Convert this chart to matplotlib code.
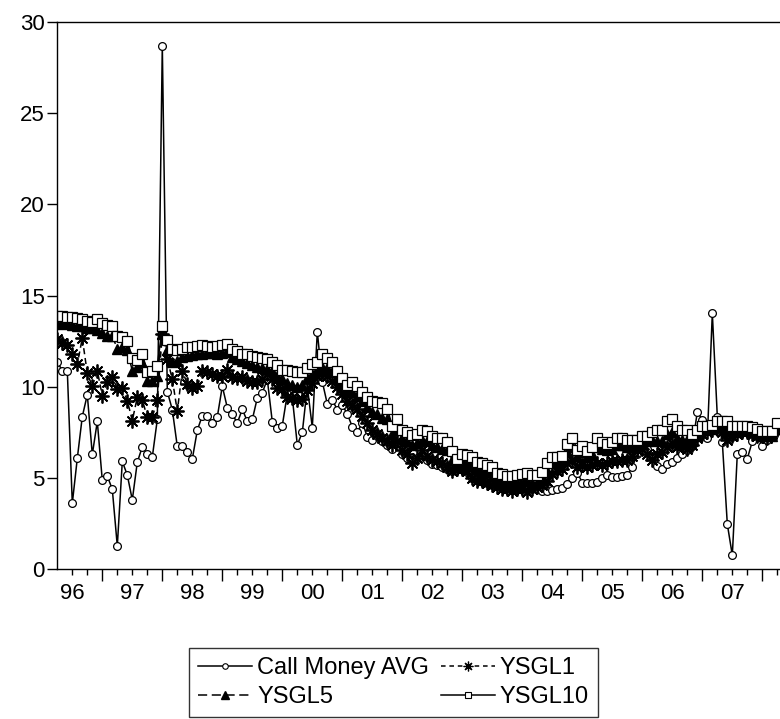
import numpy as np
import matplotlib.pyplot as plt
from matplotlib.lines import Line2D

plt.rcParams['font.family'] = ['Liberation Sans', 'DejaVu Sans']

# monthly data, Apr 1996 .. Apr 2008
call_money = [11.37, 10.87, 10.87, 3.6, 6.07, 8.36, 9.56, 6.28, 8.09, 4.86, 5.1, 4.37, 1.26, 5.9, 5.15,
              3.79, 5.86, 6.7, 6.28, 6.14, 8.2, 28.7, 9.73, 8.74, 6.72, 6.74, 6.41, 6.03, 7.61, 8.41,
              8.41, 8.0, 8.34, 10.02, 8.85, 8.49, 8.01, 8.76, 8.1, 8.2, 9.38, 9.67, 10.4, 8.07, 7.72,
              7.87, 9.6, 9.4, 6.81, 7.49, 10.0, 7.76, 13.02, 10.27, 9.05, 9.27, 8.74, 9.0, 8.5, 7.8,
              7.49, 8.03, 7.25, 7.1, 7.3, 7.0, 6.8, 6.6, 6.9, 6.3, 6.1, 6.0, 6.1, 6.23, 6.0,
              5.77, 5.7, 5.6, 5.5, 5.4, 5.6, 5.5, 5.3, 5.0, 4.9, 4.8, 4.7, 4.6, 4.6, 4.5,
              4.6, 4.5, 4.4, 4.5, 4.6, 4.5, 4.4, 4.3, 4.28, 4.33, 4.41, 4.46, 4.68, 5.0, 5.28,
              4.74, 4.74, 4.74, 4.77, 5.01, 5.14, 5.04, 5.04, 5.1, 5.14, 5.6, 6.3, 6.8, 6.6, 6.2,
              5.65, 5.5, 5.74, 5.86, 6.1, 6.28, 6.5, 6.72, 8.63, 8.18, 7.17, 14.03, 8.36, 6.96, 2.46,
              0.75, 6.32, 6.41, 6.05, 7.0, 7.3, 6.74, 7.05, 7.4, 7.6]

ysgl1 = [12.6, 12.42, 12.28, 11.79, 11.24, 12.66, 10.73, 10.02, 10.87, 9.51, 10.27, 10.55, 9.87, 9.91, 9.23,
         8.14, 9.42, 9.27, 8.32, 8.32, 9.29, 12.88, 11.5, 10.42, 8.65, 10.87, 10.15, 9.93, 10.02, 10.84,
         10.8, 10.69, 10.6, 10.6, 10.93, 10.51, 10.5, 10.51, 10.33, 10.24, 10.24, 10.42, 10.69, 10.4, 9.93,
         9.87, 9.42, 9.38, 9.29, 9.3, 9.8, 10.2, 10.6, 10.8, 10.6, 10.3, 10.0, 9.6, 9.2, 9.0,
         8.8, 8.4, 8.0, 7.6, 7.4, 7.2, 7.0, 6.8, 7.0, 6.5, 6.3, 5.8, 6.1, 6.5, 6.2,
         6.0, 5.9, 5.8, 5.6, 5.4, 5.5, 5.5, 5.4, 5.0, 4.8, 4.8, 4.7, 4.6, 4.5, 4.4,
         4.4, 4.3, 4.4, 4.4, 4.2, 4.4, 4.5, 4.6, 4.8, 5.2, 5.4, 5.5, 5.8, 6.0, 5.6,
         5.7, 5.6, 5.7, 5.8, 5.7, 5.8, 5.9, 5.9, 6.0, 6.0, 6.2, 6.5, 6.6, 6.3, 6.0,
         6.3, 6.4, 6.7, 6.9, 6.7, 6.8, 6.6, 6.8, 7.2, 7.4, 7.5, 7.6, 7.7, 7.5, 7.1,
         7.3, 7.4, 7.5, 7.5, 7.4, 7.3, 7.3, 7.2, 7.4, 7.6]

ysgl5 = [13.45, 13.5, 13.45, 13.4, 13.3, 13.3, 13.2, 13.2, 13.1, 12.97, 12.8, 12.8, 12.06, 12.15, 12.0,
         10.87, 11.1, 11.3, 10.33, 10.33, 10.6, 12.9, 12.0, 11.33, 11.4, 11.6, 11.7, 11.75, 11.8, 11.8,
         11.85, 11.85, 11.8, 11.85, 11.9, 11.6, 11.5, 11.4, 11.3, 11.2, 11.1, 11.0, 10.95, 10.85, 10.6,
         10.4, 10.2, 10.1, 10.0, 10.1, 10.5, 10.7, 10.9, 11.1, 11.0, 10.8, 10.4, 10.0, 9.7, 9.7,
         9.5, 9.2, 8.9, 8.6, 8.5, 8.3, 8.2, 7.4, 7.6, 7.2, 7.0, 6.8, 6.9, 7.1, 7.0,
         6.8, 6.7, 6.6, 6.5, 6.0, 5.7, 5.9, 5.8, 5.7, 5.5, 5.4, 5.3, 5.1, 4.9, 4.8,
         4.7, 4.7, 4.7, 4.8, 4.8, 4.7, 4.7, 4.9, 5.4, 5.8, 5.8, 5.9, 6.4, 6.7, 6.2,
         6.4, 6.2, 6.3, 6.7, 6.6, 6.5, 6.6, 6.8, 6.8, 6.7, 6.7, 6.8, 6.9, 7.0, 7.1,
         7.0, 7.0, 7.4, 7.5, 7.2, 7.1, 7.1, 7.0, 7.3, 7.6, 7.7, 7.7, 7.8, 7.8, 7.7,
         7.6, 7.5, 7.6, 7.6, 7.5, 7.4, 7.3, 7.3, 7.3, 7.7]

ysgl10 = [13.9, 13.85, 13.8, 13.8, 13.75, 13.7, 13.6, 13.55, 13.7, 13.5, 13.4, 13.3, 12.8, 12.75, 12.5,
          11.57, 11.47, 11.8, 10.8, 10.87, 11.13, 13.3, 12.55, 12.06, 12.02, 12.08, 12.15, 12.2, 12.25, 12.3,
          12.25, 12.2, 12.25, 12.3, 12.33, 12.06, 11.93, 11.8, 11.78, 11.7, 11.62, 11.57, 11.5, 11.38, 11.2,
          10.93, 10.9, 10.84, 10.82, 10.8, 11.05, 11.24, 11.33, 11.79, 11.57, 11.38, 10.87, 10.45, 10.07, 10.24,
          10.02, 9.69, 9.42, 9.2, 9.14, 9.1, 8.76, 7.87, 8.23, 7.65, 7.5, 7.36, 7.41, 7.63, 7.56,
          7.32, 7.19, 7.19, 6.96, 6.45, 6.05, 6.32, 6.23, 6.17, 5.88, 5.81, 5.72, 5.59, 5.26, 5.23,
          5.1, 5.1, 5.14, 5.19, 5.26, 5.14, 5.15, 5.32, 5.83, 6.17, 6.17, 6.21, 6.83, 7.19, 6.54,
          6.72, 6.45, 6.68, 7.17, 6.99, 6.83, 6.96, 7.17, 7.17, 7.05, 7.05, 7.05, 7.28, 7.3, 7.54,
          7.6, 7.63, 8.14, 8.23, 7.83, 7.63, 7.63, 7.38, 7.6, 7.87, 7.87, 7.92, 8.14, 8.1, 8.1,
          7.87, 7.87, 7.87, 7.87, 7.81, 7.69, 7.56, 7.56, 7.56, 8.0]

year_labels = ['96', '97', '98', '99', '00', '01', '02', '03', '04', '05', '06', '07']

t = 1996.25 + np.arange(len(call_money)) / 12.0

fig = plt.figure(figsize=(7.8, 7.19), dpi=100)
# right edge of the plot box falls just outside the picture
ax = fig.add_axes([57.3 / 780, 1 - 569 / 719, 725 / 780, (569 - 22) / 719])

lw = 1.1
ax.plot(t, call_money, color='black', lw=lw, marker='o', ms=5.6, mfc='white', mec='black', mew=0.9)
ax.plot(t, ysgl1, color='black', lw=lw, ls=(0, (4, 2.5)), marker=(8, 2, 0), ms=10, mec='black', mew=1.3)
ax.plot(t, ysgl5, color='black', lw=lw, ls=(0, (9, 2.5)), marker='^', ms=7, mfc='black', mec='black')
ax.plot(t, ysgl10, color='black', lw=lw, marker='s', ms=6.5, mfc='white', mec='black', mew=0.9)

ax.set_xlim(1996.25, 2008.333)
ax.set_ylim(0, 30)
ax.set_yticks(range(0, 31, 5))
ax.tick_params(axis='y', direction='out', length=7, width=1, pad=2, labelsize=16, right=False)

years = np.arange(1997, 2009)
ax.set_xticks(years)
ax.set_xticklabels([])
ax.set_xticks(np.arange(1996.5, 2008.4, 0.25), minor=True)
ax.tick_params(axis='x', which='major', direction='out', length=8.5, width=1)
ax.tick_params(axis='x', which='minor', direction='out', length=4.5, width=1)

sec = ax.secondary_xaxis('bottom')
sec.set_xticks(np.arange(1996.5, 2008.0, 1.0))
sec.set_xticklabels(year_labels)
sec.tick_params(length=0, pad=10, labelsize=16)
sec.spines['bottom'].set_visible(False)

for s in ax.spines.values():
    s.set_linewidth(1.0)

handles = [
    Line2D([], [], color='black', lw=1.1, marker='o', ms=4, mfc='white', mec='black', mew=0.8),
    Line2D([], [], color='black', lw=1.1, ls=(0, (6, 3)), marker='^', ms=6, mfc='black'),
    Line2D([], [], color='black', lw=1.1, ls=(0, (3, 2.5)), marker=(8, 2, 0), ms=7, mew=0.9),
    Line2D([], [], color='black', lw=1.1, marker='s', ms=5, mfc='white', mec='black', mew=0.8),
]
labels = ['Call Money AVG', 'YSGL5', 'YSGL1', 'YSGL10']
leg = fig.legend(handles, labels, ncol=2, loc='upper left', bbox_to_anchor=(189 / 780, 1 - 648 / 719),
                 frameon=True, fancybox=False, edgecolor='black', fontsize=17, handlelength=2.3,
                 handletextpad=0.2, columnspacing=0.5, labelspacing=0.3, borderpad=0.38, borderaxespad=0)
leg.get_frame().set_linewidth(1.0)

fig.savefig('out.png', dpi=100)
